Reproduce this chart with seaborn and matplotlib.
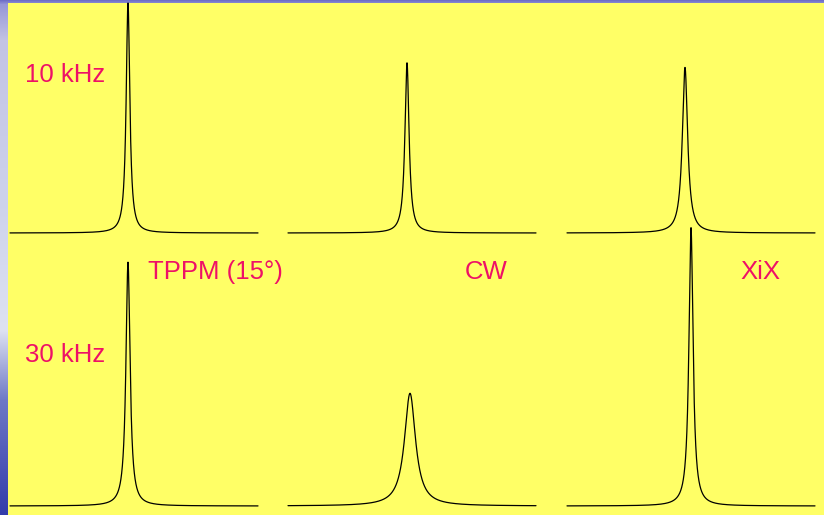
import numpy as np
import pandas as pd
import matplotlib
matplotlib.use("Agg")
import matplotlib.pyplot as plt
import seaborn as sns
from matplotlib.patches import Rectangle

sns.set_style("white")
plt.rcParams["font.family"] = ["Liberation Sans", "DejaVu Sans"]

# Decoupling schemes (columns) and MAS spinning rates (rows)
methods = ["TPPM (15°)", "CW", "XiX"]
spin_rates = ["10 kHz", "30 kHz"]

# Peak intensity (a.u.), full width at half maximum (Hz) and offset (Hz)
height_10k = [100, 74, 72]
fwhm_10k = [22, 25, 32]
offset_10k = [0, 5, 0]

height_30k = [106, 49, 121]
fwhm_30k = [25, 67, 25]
offset_30k = [0, 20, 30]

freq = np.linspace(-590, 650, 4961)


def lorentzian(f, h, w, f0):
    return h / (1.0 + (2.0 * (f - f0) / w) ** 2)


frames = []
for rate, hs, ws, fs in [(spin_rates[0], height_10k, fwhm_10k, offset_10k),
                         (spin_rates[1], height_30k, fwhm_30k, offset_30k)]:
    for m, h, w, f0 in zip(methods, hs, ws, fs):
        frames.append(pd.DataFrame({"freq": freq,
                                    "intensity": lorentzian(freq, h, w, f0),
                                    "method": m, "rate": rate}))
spectra = pd.concat(frames, ignore_index=True)

W, H = 824, 515
fig = plt.figure(figsize=(W / 100, H / 100), dpi=100)

# Slide background: bluish gradient with a yellow panel on top
bg = fig.add_axes([0, 0, 1, 1])
stops_y = [0, 4, 40, 200, 330, 400, 515]
stops_c = np.array([[110, 110, 200], [150, 150, 215], [195, 195, 228],
                    [205, 210, 236], [222, 226, 242], [110, 120, 198],
                    [50, 60, 170]]) / 255.0
yy = np.arange(H)
grad = np.stack([np.interp(yy, stops_y, stops_c[:, k]) for k in range(3)], axis=-1)
grad = np.repeat(grad[:, None, :], 4, axis=1)
bg.imshow(grad, extent=[0, W, H, 0], aspect="auto", interpolation="bilinear")
bg.add_patch(Rectangle((8, 3), W - 8, H - 3, facecolor="#FFFF66", edgecolor="none"))
bg.set_xlim(0, W)
bg.set_ylim(H, 0)
bg.axis("off")

panel_left = [10, 288, 567]
baseline_y = [233, 506]
panel_w, panel_h = 248, 230

for r, rate in enumerate(spin_rates):
    for c, m in enumerate(methods):
        ax = fig.add_axes([panel_left[c] / W, (H - baseline_y[r]) / H,
                           panel_w / W, panel_h / H])
        sub = spectra[(spectra["rate"] == rate) & (spectra["method"] == m)]
        sns.lineplot(data=sub, x="freq", y="intensity", color="black",
                     linewidth=0.9, estimator=None, legend=False, ax=ax)
        for ln in ax.lines:
            ln.set_clip_on(False)
        ax.set_xlim(-590, 650)
        ax.set_ylim(0, 100)
        ax.patch.set_alpha(0)
        ax.axis("off")

label_color = "#EE1166"
fs = 18.5
fig.text(25 / W, 1 - 82 / H, spin_rates[0], color=label_color, fontsize=fs,
         ha="left", va="baseline")
fig.text(25 / W, 1 - 362 / H, spin_rates[1], color=label_color, fontsize=fs,
         ha="left", va="baseline")
fig.text(148 / W, 1 - 279 / H, methods[0], color=label_color, fontsize=fs,
         ha="left", va="baseline")
fig.text(486 / W, 1 - 279 / H, methods[1], color=label_color, fontsize=fs,
         ha="center", va="baseline")
fig.text(760 / W, 1 - 279 / H, methods[2], color=label_color, fontsize=fs,
         ha="center", va="baseline")

fig.savefig("out.png", dpi=100)
